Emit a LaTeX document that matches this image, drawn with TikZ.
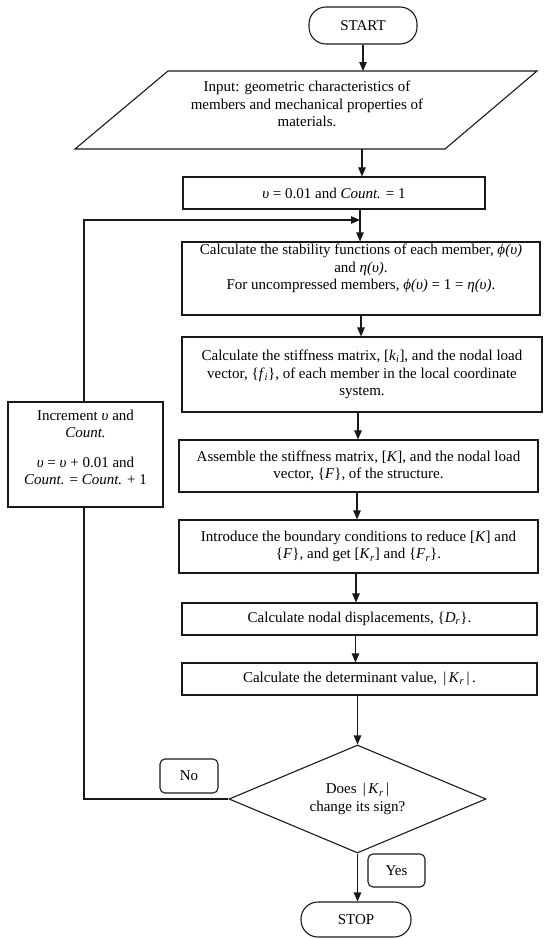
\documentclass[tikz,border=0pt]{standalone}
\usepackage{fontspec}
\setmainfont{Liberation Serif}
\usetikzlibrary{shapes.geometric,arrows.meta,calc}
\begin{document}
\begin{tikzpicture}[x=1pt,y=-1pt,
  font=\fontsize{15}{17.5}\selectfont,
  ln/.style={line width=1.1pt, draw=black!90},
  box/.style={ln, draw, rectangle, align=center, inner sep=2pt},
  txt/.style={align=center, inner sep=0pt},
  term/.style={ln, draw, rectangle, rounded corners=17pt, align=center},
  lab/.style={ln, draw, rectangle, rounded corners=5pt, align=center},
  arr/.style={ln, -{Triangle[length=9pt,width=7.5pt]}}]
\useasboundingbox (0,0) rectangle (550,940);
% terminals
\node[term, minimum width=108pt, minimum height=37pt] (start) at (363,25.5) {START};
\node[term, minimum width=110pt, minimum height=35pt] (stop) at (356,919.5) {STOP};
% input parallelogram
\draw[ln] (168,71) -- (537,71) -- (445,149) -- (75,149) -- cycle;
\coordinate (intop) at (363,71);
\coordinate (inbot) at (362,149);
\node[txt] (input) at (307,104) {Input: geometric characteristics of\\ members and mechanical properties of\\ materials.};
% boxes
\node[box, minimum width=302pt, minimum height=32pt] (init) at (334,193) {\textit{υ} = 0.01 and \textit{Count.} = 1};
\coordinate (join) at (360,220);
\node[box, minimum width=358pt, minimum height=73pt] (stab) at (361,278.5) {};
\node[txt] (stabtext) at (361,268.5) {Calculate the stability functions of each member, \textit{ϕ(υ)}\\ and \textit{η(υ)}.\\ For uncompressed members, \textit{ϕ(υ)} = 1 = \textit{η(υ)}.};
\node[box, minimum width=360pt, minimum height=75pt] (stiff) at (362,374.5) {Calculate the stiffness matrix, [\textit{k}\textsubscript{\textit{i}}], and the nodal load\\ vector, \{\textit{f}\textsubscript{\textit{i}}\}, of each member in the local coordinate\\ system.};
\node[box, minimum width=359pt, minimum height=52pt] (assem) at (358.5,466) {Assemble the stiffness matrix, [\textit{K}], and the nodal load\\ vector, \{\textit{F}\}, of the structure.};
\node[box, minimum width=359pt, minimum height=53pt] (intro) at (358.5,546.5) {Introduce the boundary conditions to reduce [\textit{K}] and\\ \{\textit{F}\}, and get [\textit{K}\textsubscript{\textit{r}}] and \{\textit{F}\textsubscript{\textit{r}}\}.};
\node[box, minimum width=355pt, minimum height=32pt] (disp) at (359.5,619) {Calculate nodal displacements, \{\textit{D}\textsubscript{\textit{r}}\}.};
\node[box, minimum width=355pt, minimum height=32pt] (det) at (359.5,679) {Calculate the determinant value, \,|\,\textit{K}\textsubscript{\textit{r}}\,|\,.};
% decision
\node[ln, draw, diamond, aspect=2.38, minimum width=257pt, minimum height=108pt, inner sep=0pt, align=center] (dia) at (357.5,799) {Does \,|\,\textit{K}\textsubscript{\textit{r}}\,|\\ change its sign?};
% increment
\node[box, minimum width=155pt, minimum height=105pt] (inc) at (85.5,454.5) {};
\node[txt] (inctext) at (85.5,447.5) {Increment \textit{υ} and\\ \textit{Count.}\\[12pt] \textit{υ} = \textit{υ} + 0.01 and\\ \textit{Count.} = \textit{Count.} + 1};
% labels
\node[lab, minimum width=58pt, minimum height=34pt] (no) at (189,776) {No};
\node[lab, minimum width=57pt, minimum height=33pt] (yes) at (396.5,870.5) {Yes};
% connectors
\draw[arr] (start.south) -- (intop);
\draw[arr] (inbot) -- (inbot |- init.north);
\draw[arr] (init.south -| join) -- (join |- stab.north);
\draw[arr] (stab.south) -- (stab.south |- stiff.north);
\draw[arr] (stiff.south -| 358,0) -- (358,0 |- assem.north);
\draw[arr] (assem.south -| 357,0) -- (357,0 |- intro.north);
\draw[arr] (intro.south -| 356,0) -- (356,0 |- disp.north);
\draw[arr] (disp.south -| 355.5,0) -- (355.5,0 |- det.north);
\draw[arr] (det.south -| dia.north) -- (dia.north);
\draw[arr] (dia.south) -- (dia.south |- stop.north);
\draw[ln] (dia.west) -| (inc.south -| 84,0);
\draw[arr] (inc.north -| 84,0) |- (join);
\end{tikzpicture}
\end{document}
